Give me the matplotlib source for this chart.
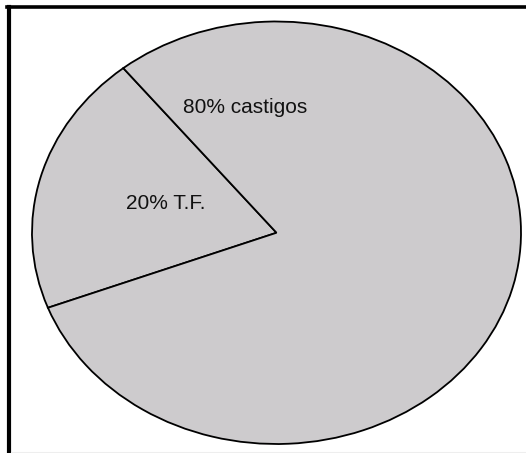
import matplotlib
matplotlib.use("Agg")
import matplotlib.pyplot as plt
from matplotlib.lines import Line2D

plt.rcParams['font.family'] = ['Liberation Sans', 'DejaVu Sans']

# data
labels = ["20% T.F.", "80% castigos"]
shares = [20, 80]
label_pos = [(-0.454, 0.112), (-0.127, 0.567)]

W, H = 526, 453
fig = plt.figure(figsize=(W / 100, H / 100), dpi=100)

# axes spans the ellipse exactly
ax = fig.add_axes([32 / W, 9 / H, 489 / W, 422.5 / H])
wedges, _ = ax.pie(shares, startangle=128.8, counterclock=True,
                   colors=['#cdcbcd', '#cdcbcd'],
                   wedgeprops=dict(edgecolor='black', linewidth=1.3))
for w in wedges:
    w.set_clip_on(False)
ax.set_aspect('auto')
ax.set_xlim(-1, 1)
ax.set_ylim(-1, 1)
ax.axis('off')

for lab, (x, y) in zip(labels, label_pos):
    ax.text(x, y, lab, ha='center', va='baseline', fontsize=15, color='#111111')

# frame around the chart (right and bottom cut off)
fig.add_artist(Line2D([9 / W, 9 / W], [0, 1 - 6.5 / H], color='black', linewidth=3, transform=fig.transFigure))
fig.add_artist(Line2D([7 / W, 1], [1 - 6.5 / H, 1 - 6.5 / H], color='black', linewidth=2.6, transform=fig.transFigure))
fig.add_artist(Line2D([11 / W, 1], [1 - 452 / H, 1 - 452 / H], color='#eeeeee', linewidth=0.8, transform=fig.transFigure))

fig.savefig("out.png", dpi=100)
